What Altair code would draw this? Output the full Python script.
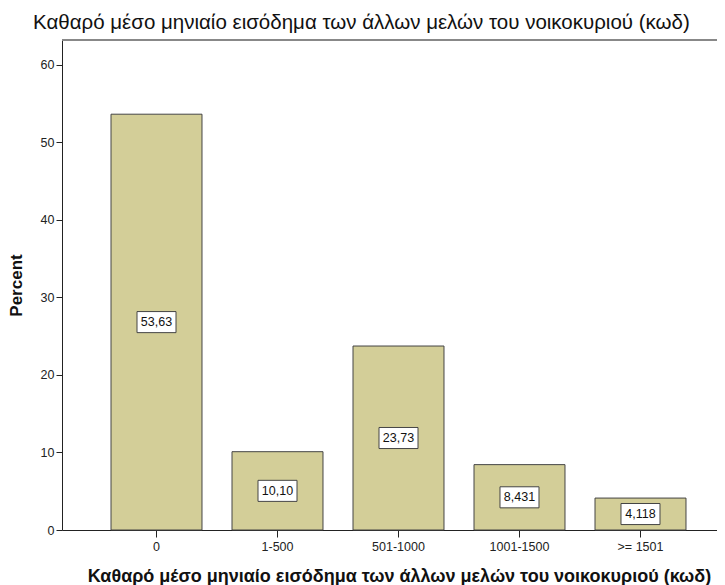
import altair as alt
import pandas as pd

categories = ["0", "1-500", "501-1000", "1001-1500", ">= 1501"]
percents = [53.63, 10.10, 23.73, 8.431, 4.118]
label_texts = ["53,63", "10,10", "23,73", "8,431", "4,118"]
y_ticks = [0, 10, 20, 30, 40, 50, 60]

df = pd.DataFrame({"cat": categories, "pct": percents, "lab": label_texts})
df["mid"] = df["pct"] / 2

FONT = "Liberation Sans"
W, H = 655, 490

xscale = alt.Scale(domain=categories, range=[0, 673], paddingInner=0.248, paddingOuter=0.405)
yscale = alt.Scale(domain=[0, 63.2], nice=False, zero=True)

xenc = alt.X("cat:N", scale=xscale, sort=categories,
             axis=alt.Axis(title="Καθαρό μέσο μηνιαίο εισόδημα των άλλων μελών του νοικοκυριού (κωδ)",
                           labelAngle=0, labelFont=FONT, labelFontSize=12.5, labelColor="#222",
                           labelPadding=3, tickSize=7, tickColor="#222", domainColor="#222",
                           titleFont=FONT, titleFontSize=18, titleFontWeight="bold", titleColor="#111",
                           titlePadding=15, titleX=337, titleAnchor="middle"))

bars = alt.Chart(df).mark_bar(fill="#d3ce98", stroke="#444444", strokeWidth=1).encode(
    x=xenc,
    y=alt.Y("pct:Q", scale=yscale,
            axis=alt.Axis(title="Percent", values=y_ticks, grid=False, labelFont=FONT, labelFontSize=12.5,
                          labelColor="#222", labelPadding=2, tickSize=6, tickColor="#222",
                          domainColor="#222", titleFont=FONT, titleFontSize=17,
                          titleFontWeight="bold", titleColor="#111", titlePadding=15)),
)

box_shape = "M-1,-0.54 L1,-0.54 L1,0.54 L-1,0.54 Z"
boxes = alt.Chart(df).mark_point(shape=box_shape, size=1521, filled=True, fill="white",
                                  stroke="#444444", strokeWidth=1, opacity=1).encode(
    x=alt.X("cat:N", scale=xscale, sort=categories),
    y=alt.Y("mid:Q", scale=yscale),
)

texts = alt.Chart(df).mark_text(font=FONT, fontSize=12.5, color="#111", baseline="middle").encode(
    x=alt.X("cat:N", scale=xscale, sort=categories),
    y=alt.Y("mid:Q", scale=yscale),
    text="lab:N",
)

topline = alt.Chart(df).mark_rule(color="#888888", strokeWidth=1.5).encode(
    x=alt.value(0), x2=alt.value(W), y=alt.value(0)
)

chart = alt.layer(bars, boxes, texts, topline).properties(
    width=W, height=H,
    title=alt.TitleParams("Καθαρό μέσο μηνιαίο εισόδημα των άλλων μελών του νοικοκυριού (κωδ)",
                          anchor="start", frame="group", dx=-29, font=FONT, fontSize=20.5,
                          fontWeight="normal", color="#111", offset=6),
    autosize=alt.AutoSizeParams(type="none"),
    padding={"left": 54, "top": 32, "right": 0, "bottom": 60},
).configure_view(fill="#f0f0f0", stroke=None).configure(background="white")

chart.save("out.html", embed_options={"renderer": "svg", "actions": False})
